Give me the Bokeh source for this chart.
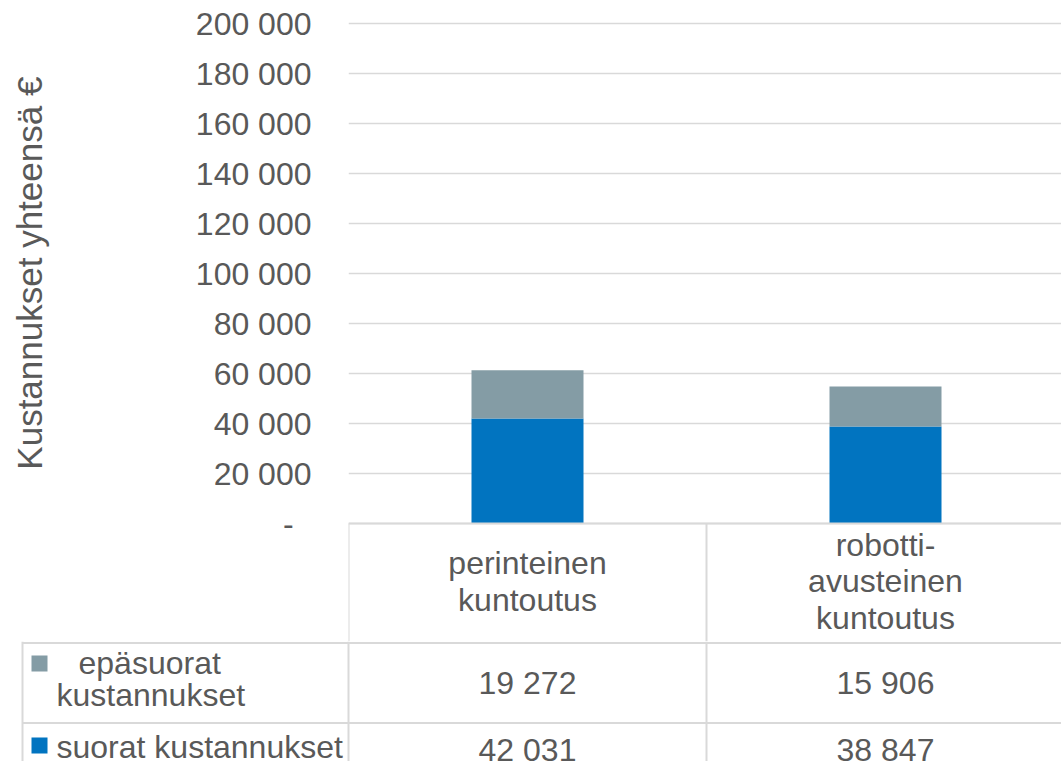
from bokeh.plotting import figure
from bokeh.layouts import column
from bokeh.models import ColumnDataSource, Range1d, FixedTicker
from bokeh.core.properties import value
from bokeh.embed import file_html
from bokeh.resources import INLINE

# --- data -------------------------------------------------------------
categories = ["perinteinen\nkuntoutus", "robotti-\navusteinen\nkuntoutus"]
series_names = ["suorat kustannukset", "epäsuorat kustannukset"]
suorat = [42031, 38847]
epasuorat = [19272, 15906]
y_ticks = [0, 20000, 40000, 60000, 80000, 100000, 120000, 140000, 160000, 180000, 200000]
y_title = "Kustannukset yhteensä €"

# --- style ------------------------------------------------------------
FONT = "Liberation Sans"
TXT = "#595959"
GRID = "#d9d9d9"
C_SUORAT = "#0174c0"
C_EPAS = "#849ca5"
FS = "32px"

W = 1061
H = 761
PLOT_TOP = 23        # y pixel of the 200 000 gridline
PLOT_BOTTOM = 523    # y pixel of the zero line / top of the data table
CAT_ROW = 118        # height of the category-label row of the table
FRAME_LEFT = 348     # left edge of plot area
CAT_W = 358          # pixel width of one category column
LEGEND_LEFT = 22
Y_MAX = 200000

def fmt(v):
    return "-\u2007" if v == 0 else f"{v:,}".replace(",", " ")

upp = Y_MAX / (PLOT_BOTTOM - PLOT_TOP)      # data units per pixel
x_pos = [i + 0.5 for i in range(len(categories))]
x_end = (W - FRAME_LEFT) / CAT_W
n = len(categories)
common = dict(text_font=value(FONT), text_font_size=value(FS), text_color=TXT)

src = ColumnDataSource(dict(x=x_pos, suorat=suorat, epasuorat=epasuorat))

# --- chart with the category row of the table ----------------------------
top_h = PLOT_BOTTOM + CAT_ROW
p = figure(width=W, height=top_h, x_range=Range1d(0, x_end),
           y_range=Range1d(-CAT_ROW * upp, Y_MAX + 2 * upp),
           output_backend="svg", toolbar_location=None, x_axis_location=None,
           min_border_left=FRAME_LEFT, min_border_right=0, min_border_top=PLOT_TOP - 2,
           min_border_bottom=0)
p.frame_align = False
p.outline_line_color = None
p.xgrid.visible = False
p.ygrid.grid_line_color = GRID
p.ygrid.grid_line_width = 1.5
p.ygrid.ticker = FixedTicker(ticks=y_ticks)

ax = p.yaxis[0]
ax.ticker = FixedTicker(ticks=y_ticks)
ax.major_label_overrides = {t: fmt(t) for t in y_ticks}
ax.axis_line_color = None
ax.major_tick_line_color = None
ax.minor_tick_line_color = None
ax.major_label_standoff = 31
ax.major_label_text_font = FONT
ax.major_label_text_font_size = FS
ax.major_label_text_color = TXT
# the frame also holds the category row, so the title is padded at its
# start to sit centred on the value scale (0 .. 200 000) only
ax.axis_label = "\u00a0" * 12 + y_title
ax.axis_label_text_font = FONT
ax.axis_label_text_font_size = "35px"
ax.axis_label_text_font_style = "normal"
ax.axis_label_text_color = TXT
ax.axis_label_standoff = 144

p.vbar_stack(["suorat", "epasuorat"], x="x", width=112 / CAT_W, source=src,
             color=[C_SUORAT, C_EPAS], line_width=0)

# table: top rule, column rules and category names
p.segment(x0=[0], y0=[0], x1=[x_end], y1=[0], line_color=GRID, line_width=2)
p.segment(x0=list(range(n)), y0=[0] * n, x1=list(range(n)), y1=[-CAT_ROW * upp] * n,
          line_color=GRID, line_width=2)
p.text(x=x_pos, y=[-58 * upp] * n, text=categories, text_align="center",
       text_baseline="middle", text_line_height=1.02, **common)

# --- series rows of the data table ---------------------------------------
# y in pixels measured down from the zero line
def px_to_x(px):
    return (px - FRAME_LEFT) / CAT_W

bottom = H - PLOT_BOTTOM
t = figure(width=W, height=H - top_h, x_range=Range1d(px_to_x(0), px_to_x(W)),
           y_range=Range1d(bottom, CAT_ROW), output_backend="svg",
           toolbar_location=None, x_axis_location=None, y_axis_location=None, min_border=0)
t.frame_align = False
t.outline_line_color = None
t.grid.visible = False

ROW1 = 119.5   # rule under the category row
ROW2 = 199.5   # rule under the first series row
leg_x = px_to_x(LEGEND_LEFT)

t.segment(x0=[leg_x, leg_x], y0=[ROW1, ROW2], x1=[x_end] * 2, y1=[ROW1, ROW2],
          line_color=GRID, line_width=2)
vx = list(range(n))
t.segment(x0=vx + [leg_x], y0=[CAT_ROW] * (n + 1), x1=vx + [leg_x], y1=[bottom] * (n + 1),
          line_color=GRID, line_width=2)

t.text(x=x_pos, y=[159] * n, text=[fmt(v) for v in epasuorat], text_align="center",
       text_baseline="middle", **common)
t.text(x=x_pos, y=[226] * n, text=[fmt(v) for v in suorat], text_align="center",
       text_baseline="middle", **common)

# legend keys and series names
t.scatter(x=[px_to_x(39)] * 2, y=[140, 222], marker="square", size=16,
          color=[C_EPAS, C_SUORAT], line_width=0)
t.text(x=[px_to_x(78), px_to_x(56)], y=[139, 171], text=["epäsuorat", "kustannukset"],
       text_align="left", text_baseline="middle", **common)
t.text(x=[px_to_x(56)], y=[223], text=[series_names[0]],
       text_align="left", text_baseline="middle", **common)

layout = column(p, t, spacing=0)
open("out.html", "w").write(file_html(layout, INLINE))
